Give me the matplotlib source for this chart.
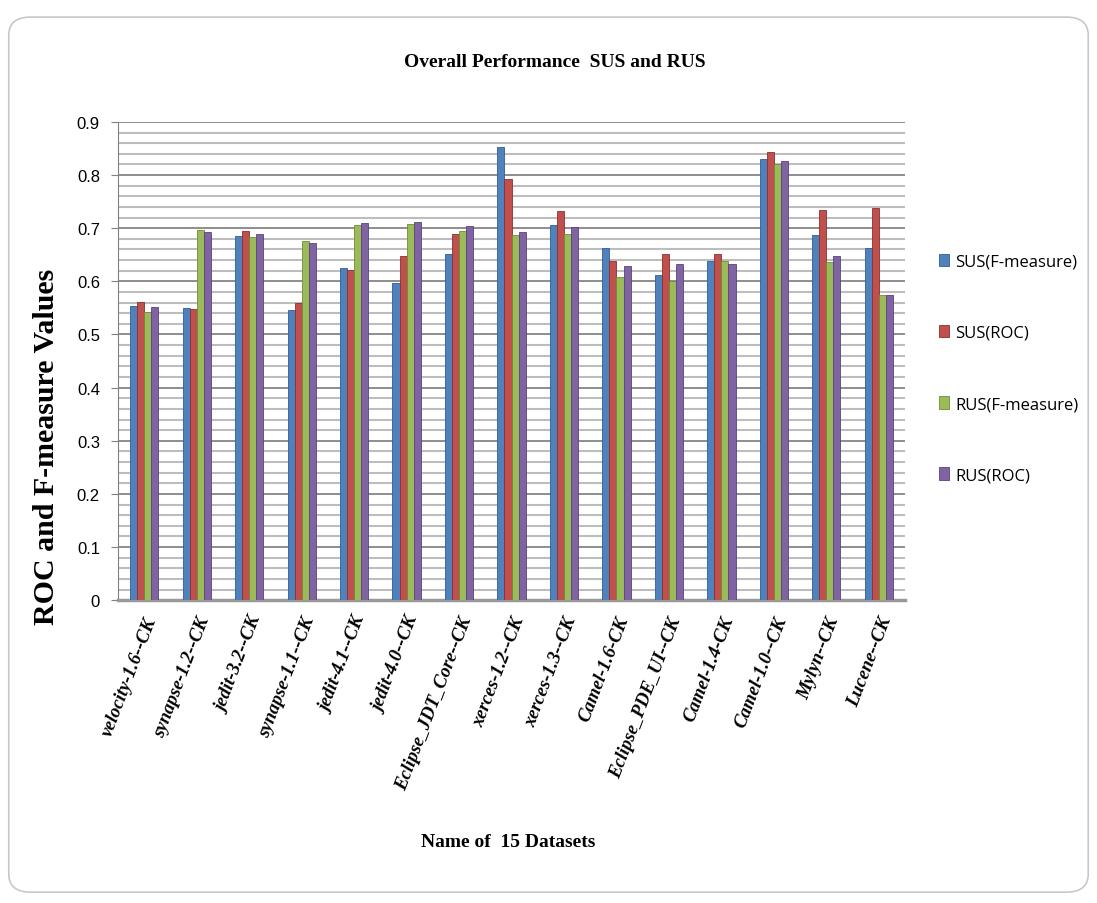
import numpy as np
import matplotlib.pyplot as plt
from matplotlib.patches import FancyBboxPatch

datasets = ['velocity-1.6--CK', 'synapse-1.2--CK', 'jedit-3.2--CK', 'synapse-1.1--CK',
            'jedit-4.1--CK', 'jedit-4.0--CK', 'Eclipse_JDT_Core--CK', 'xerces-1.2--CK',
            'xerces-1.3--CK', 'Camel-1.6-CK', 'Eclipse_PDE_UI--CK', 'Camel-1.4-CK',
            'Camel-1.0--CK', 'Mylyn--CK', 'Lucene--CK']

sus_f = [0.553, 0.549, 0.686, 0.546, 0.626, 0.597, 0.651, 0.852, 0.706, 0.663, 0.612, 0.638, 0.831, 0.687, 0.663]
sus_roc = [0.562, 0.548, 0.694, 0.559, 0.622, 0.648, 0.689, 0.793, 0.733, 0.638, 0.651, 0.651, 0.843, 0.734, 0.738]
rus_f = [0.542, 0.697, 0.683, 0.676, 0.706, 0.708, 0.694, 0.687, 0.689, 0.609, 0.601, 0.639, 0.821, 0.636, 0.574]
rus_roc = [0.552, 0.692, 0.690, 0.672, 0.709, 0.711, 0.705, 0.692, 0.703, 0.629, 0.632, 0.632, 0.826, 0.648, 0.574]

series = ['SUS(F-measure)', 'SUS(ROC)', 'RUS(F-measure)', 'RUS(ROC)']
colors = ['#4F81BD', '#C0504D', '#9BBB59', '#8064A2']
edges = ['#2f5f94', '#8e2f2c', '#6f8c38', '#5a4280']

fig = plt.figure(figsize=(10.97, 9.04), dpi=100)
fig.patch.set_facecolor('white')

# rounded outer chart border
border = FancyBboxPatch((0.008, 0.012), 0.984, 0.968, boxstyle='round,pad=0,rounding_size=0.02',
                        transform=fig.transFigure, facecolor='none', edgecolor='#c8c8c8', lw=1.2, zorder=-1)
fig.patches.append(border)

ax = fig.add_axes([0.1076, 0.335, 0.7174, 0.529])
ax.set_facecolor('none')
x = np.arange(len(datasets))
w = 0.135
for i, (vals, c, e, lab) in enumerate(zip([sus_f, sus_roc, rus_f, rus_roc], colors, edges, series)):
    ax.bar(x + (i - 1.5) * w, vals, width=w, color=c, edgecolor=e, linewidth=0.6, label=lab, zorder=3)

ax.set_xlim(-0.5, len(datasets) - 0.5)
ax.set_ylim(0, 0.9)
ax.set_yticks(np.arange(0, 0.91, 0.1))
ax.set_yticklabels(['0', '0.1', '0.2', '0.3', '0.4', '0.5', '0.6', '0.7', '0.8', '0.9'],
                   fontsize=12, family='Liberation Sans')
ax.set_yticks(np.arange(0, 0.9, 0.02), minor=True)
ax.tick_params(axis='y', which='minor', length=0)
ax.tick_params(axis='y', which='major', length=5, color='#808080', pad=8)
ax.grid(axis='y', which='minor', color='#bdbdbd', lw=1.5, zorder=0)
ax.grid(axis='y', which='major', color='#858585', lw=1.3, zorder=0)

ax.set_xticks(x)
ax.set_xticklabels(datasets, rotation=69, ha='right', rotation_mode='anchor',
                   fontsize=13.5, family='Liberation Serif', fontweight='bold', style='italic')
ax.tick_params(axis='x', length=0, pad=10)

for s in ['top', 'right']:
    ax.spines[s].set_visible(False)
ax.spines['left'].set_color('#808080')
ax.spines['bottom'].set_color('#999999')
ax.spines['bottom'].set_linewidth(2.5)

fig.text(0.506, 0.931, 'Overall Performance  SUS and RUS', ha='center', va='center',
         fontsize=14, family='Liberation Serif', fontweight='bold')
fig.text(0.042, 0.506, 'ROC and F-measure Values', rotation=90, ha='center', va='center',
         fontsize=21.5, family='Liberation Serif', fontweight='bold')
fig.text(0.463, 0.068, 'Name of  15 Datasets', ha='center', va='center',
         fontsize=14, family='Liberation Serif', fontweight='bold')

fig.legend(loc='upper left', bbox_to_anchor=(0.842, 0.735), frameon=False,
           handlelength=0.6, handleheight=0.8, handletextpad=0.4, labelspacing=3.3,
           prop={'family': 'Open Sans', 'size': 12})

fig.savefig('out.png', dpi=100)
